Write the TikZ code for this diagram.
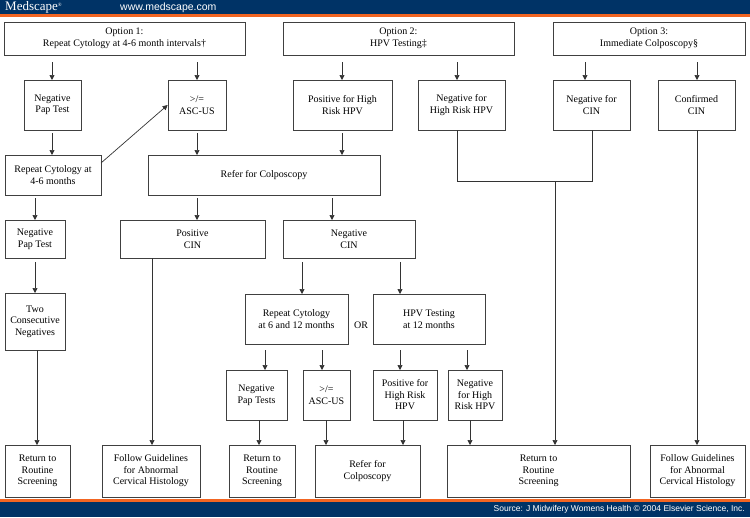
\documentclass[tikz,border=0pt]{standalone}
\usepackage{fontspec}
\setmainfont{Liberation Serif}
\newfontfamily\hdfont{Liberation Sans}
\usetikzlibrary{arrows.meta}
\definecolor{bannerblue}{HTML}{003366}
\definecolor{bannerorange}{HTML}{F26522}
\tikzset{
  box/.style={draw=black!75, line width=0.7pt, align=center, font=\fontsize{10}{11.5}\selectfont, inner sep=1pt},
  flow/.style={draw=black!80, line width=0.7pt, -{Triangle[length=5pt,width=5pt]}},
  line/.style={draw=black!80, line width=0.7pt}
}
% box from corner (x1,y1) to (x2,y2)
\newcommand{\bx}[6]{\node[box, minimum width=#4pt-#2pt, minimum height=#5pt-#3pt] (#1) at ({(#2+#4)/2},{(#3+#5)/2}) {#6};}
\begin{document}
\begin{tikzpicture}[x=1pt,y=-1pt]
  \useasboundingbox (0,0) rectangle (750,517);
  % Banners
  \fill[bannerblue] (0,0) rectangle (750,14);
  \fill[bannerorange] (0,14) rectangle (750,17);
  \fill[bannerorange] (0,499) rectangle (750,502);
  \fill[bannerblue] (0,502) rectangle (750,517);
  \node[anchor=west, text=white, font=\fontsize{13}{14}\selectfont, inner sep=0] (logo) at (5,7.5) {Medscape\textsuperscript{\tiny\textregistered}};
  \node[anchor=west, text=white, font=\hdfont\fontsize{10.5}{12}\selectfont, inner sep=0] (url) at (120,7.5) {www.medscape.com};
  \node[anchor=east, text=white, font=\hdfont\fontsize{8.5}{9}\selectfont, inner sep=0] (src) at (745,509.5) {Source: J Midwifery Womens Health \textcopyright{} 2004 Elsevier Science, Inc.};

  % Options
  \bx{opta}{4}{22}{245}{55}{Option 1:\\Repeat Cytology at 4-6 month intervals\textdagger}
  \bx{optb}{283}{22}{514}{55}{Option 2:\\HPV Testing\textdaggerdbl}
  \bx{optc}{553}{22}{745}{55}{Option 3:\\Immediate Colposcopy\S}

  % Second row
  \bx{negpap}{24}{80}{81}{130}{Negative\\Pap Test}
  \bx{ascus}{168}{80}{226}{130}{>/=\\ASC-US}
  \bx{poshpv}{293}{80}{392}{130}{Positive for High\\Risk HPV}
  \bx{neghpv}{418}{80}{505}{130}{Negative for\\High Risk HPV}
  \bx{negcin}{553}{80}{630}{130}{Negative for\\CIN}
  \bx{confcin}{658}{80}{735}{130}{Confirmed\\CIN}

  % Third row
  \bx{rep46}{5}{155}{101}{195}{Repeat Cytology at\\4-6 months}
  \bx{refer}{148}{155}{380}{195}{Refer for Colposcopy}

  % Fourth row
  \bx{negpapb}{5}{220}{65}{258}{Negative\\Pap Test}
  \bx{poscin}{120}{220}{265}{258}{Positive\\CIN}
  \bx{negcinb}{283}{220}{415}{258}{Negative\\CIN}

  \bx{twoneg}{5}{293}{65}{350}{Two\\Consecutive\\Negatives}
  \bx{rep612}{245}{294}{348}{344}{Repeat Cytology\\at 6 and 12 months}
  \node[font=\fontsize{10}{11.5}\selectfont] (or) at (361,325) {OR};
  \bx{hpv12}{373}{294}{485}{344}{HPV Testing\\at 12 months}

  \bx{negpaps}{226}{370}{287}{420}{Negative\\Pap Tests}
  \bx{ascusb}{303}{370}{350}{420}{>/=\\ASC-US}
  \bx{poshr}{373}{370}{437}{420}{Positive for\\High Risk\\HPV}
  \bx{neghr}{448}{370}{502}{420}{Negative\\for High\\Risk HPV}

  % Bottom row
  \bx{reta}{5}{445}{70}{497}{Return to\\Routine\\Screening}
  \bx{follow}{102}{445}{200}{497}{Follow Guidelines\\for Abnormal\\Cervical Histology}
  \bx{retb}{229}{445}{295}{497}{Return to\\Routine\\Screening}
  \bx{referb}{315}{445}{420}{497}{Refer for\\Colposcopy}
  \bx{retc}{447}{445}{630}{497}{Return to\\Routine\\Screening}
  \bx{followb}{650}{445}{745}{497}{Follow Guidelines\\for Abnormal\\Cervical Histology}

  % Arrows from options
  \draw[flow] (52,62) -- (52,80);
  \draw[flow] (197,62) -- (197,80);
  \draw[flow] (342,62) -- (342,80);
  \draw[flow] (457,62) -- (457,80);
  \draw[flow] (585,62) -- (585,80);
  \draw[flow] (697,62) -- (697,80);

  \draw[flow] (52,133) -- (52,155);
  \draw[flow] (197,133) -- (197,155);
  \draw[flow] (342,133) -- (342,155);
  \draw[flow] (101,163) -- (ascus.west);

  % Joined negatives
  \draw[line] (457,130) |- (592,181) -- (592,130);
  \draw[flow] (555,181) -- (555,445);
  \draw[flow] (697,130) -- (697,445);

  \draw[flow] (35,198) -- (35,220);
  \draw[flow] (197,198) -- (197,220);
  \draw[flow] (332,198) -- (332,220);

  \draw[flow] (35,262) -- (35,293);
  \draw[flow] (37,350) -- (37,445);
  \draw[flow] (152,258) -- (152,445);
  \draw[flow] (302,262) -- (302,294);
  \draw[flow] (400,262) -- (400,294);

  \draw[flow] (265,350) -- (265,370);
  \draw[flow] (322,350) -- (322,370);
  \draw[flow] (400,350) -- (400,370);
  \draw[flow] (467,350) -- (467,370);

  \draw[flow] (259,420) -- (259,445);
  \draw[flow] (326,420) -- (326,445);
  \draw[flow] (403,420) -- (403,445);
  \draw[flow] (470,420) -- (470,445);
\end{tikzpicture}
\end{document}
